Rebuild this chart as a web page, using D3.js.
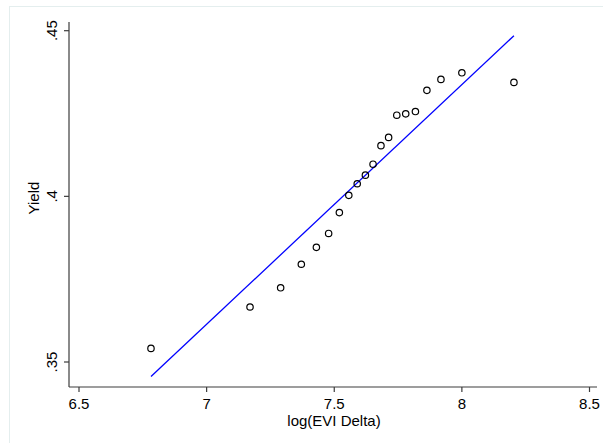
<!DOCTYPE html>
<head>
	<meta charset="UTF-8">
	<script src="https://d3js.org/d3.v7.min.js"></script>
<style>
	body{ margin: 0; background-color: white; }
	svg{ display: block; }
	text{ font-family: "Liberation Sans", Arial, sans-serif; fill: black; }
</style>
</head>

<body>
	<svg width=603 height=443></svg>
</body>

<script>
	// Data
	var logEvi = [6.782, 7.170, 7.290, 7.371, 7.430, 7.478, 7.520, 7.557, 7.590, 7.622,
				  7.652, 7.683, 7.713, 7.745, 7.780, 7.818, 7.863, 7.918, 8.000, 8.204];
	var yieldVals = [0.3541, 0.3666, 0.3724, 0.3795, 0.3846, 0.3888, 0.3951, 0.4003, 0.4038, 0.4064,
				  0.4097, 0.4153, 0.4178, 0.4245, 0.4249, 0.4256, 0.4320, 0.4353, 0.4373, 0.4344];
	// fitted line end points
	var fitX = [6.782, 8.204];
	var fitY = [0.3456, 0.4485];
	var xTicks = [6.5, 7, 7.5, 8, 8.5];
	var yTicks = [0.35, 0.4, 0.45];
	var yTickLabels = [".35", ".4", ".45"];

	var svg = d3.select("svg");
	var axisGray = "rgb(60,60,60)";
	var fontSize = 15;

	// Outer frame (light)
	svg.append("rect")
		.attr("x", 9.5).attr("y", 6.5)
		.attr("width", 620).attr("height", 460)
		.style("fill", "none")
		.style("stroke", "rgb(228,238,238)");

	var x = d3.scaleLinear().domain([6.5, 8.5]).range([79, 589.5]);
	var y = d3.scaleLinear().domain([0.35, 0.45]).range([362, 30.7]);

	// plot area edges ("top" is taken by window.top)
	var plotLeft = 69, plotRight = 597, plotTop = 22, plotBottom = 387;

	// Axis lines
	svg.append("line")
		.attr("x1", plotLeft).attr("y1", plotTop).attr("x2", plotLeft).attr("y2", plotBottom)
		.style("stroke", axisGray).style("stroke-width", 1.2);
	svg.append("line")
		.attr("x1", plotLeft).attr("y1", plotBottom).attr("x2", plotRight).attr("y2", plotBottom)
		.style("stroke", axisGray).style("stroke-width", 1.2);

	// x ticks
	var xt = svg.append("g").selectAll("g").data(xTicks).enter().append("g");
	xt.append("line")
		.attr("x1", d => x(d)).attr("x2", d => x(d))
		.attr("y1", plotBottom).attr("y2", plotBottom + 5)
		.style("stroke", axisGray).style("stroke-width", 1.2);
	xt.append("text")
		.attr("x", d => x(d)).attr("y", 408.5)
		.attr("text-anchor", "middle")
		.attr("font-size", fontSize)
		.text(d => d);

	// y ticks
	var yt = svg.append("g").selectAll("g").data(yTicks).enter().append("g");
	yt.append("line")
		.attr("x1", plotLeft - 5).attr("x2", plotLeft)
		.attr("y1", d => y(d)).attr("y2", d => y(d))
		.style("stroke", axisGray).style("stroke-width", 1.2);
	yt.append("text")
		.attr("transform", d => "translate(" + 57 + "," + y(d) + ") rotate(-90)")
		.attr("text-anchor", "middle")
		.attr("font-size", fontSize)
		.text((d, i) => yTickLabels[i]);

	// Axis titles
	svg.append("text")
		.attr("x", 334).attr("y", 425.5)
		.attr("text-anchor", "middle")
		.attr("font-size", fontSize)
		.text("log(EVI Delta)");
	svg.append("text")
		.attr("transform", "translate(38.5,198) rotate(-90)")
		.attr("text-anchor", "middle")
		.attr("font-size", fontSize)
		.text("Yield");

	// Fitted line
	svg.append("line")
		.attr("x1", x(fitX[0])).attr("y1", y(fitY[0]))
		.attr("x2", x(fitX[1])).attr("y2", y(fitY[1]))
		.style("stroke", "rgb(0,0,255)").style("stroke-width", 1.3);

	// Points
	svg.append("g").selectAll("circle")
		.data(logEvi).enter()
		.append("circle")
		.attr("cx", d => x(d))
		.attr("cy", (d, i) => y(yieldVals[i]))
		.attr("r", 3.2)
		.style("fill", "none")
		.style("stroke", "black")
		.style("stroke-width", 1.2);
</script>
